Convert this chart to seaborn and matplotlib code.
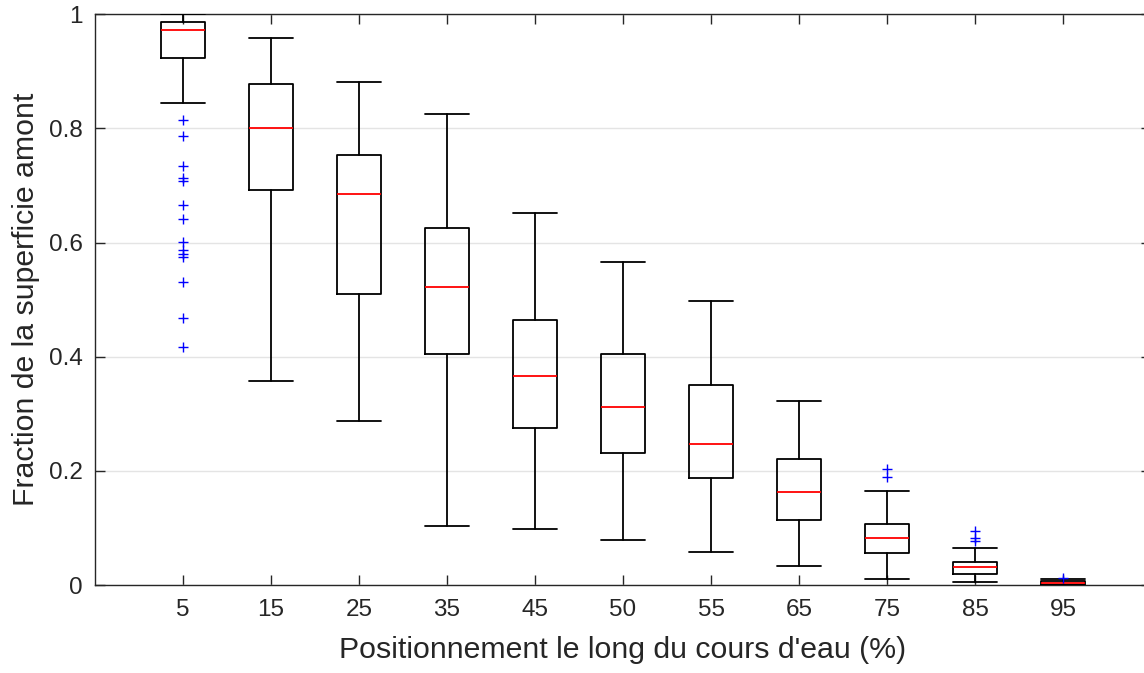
import matplotlib
matplotlib.use("Agg")
import matplotlib.pyplot as plt
import numpy as np
import pandas as pd
import seaborn as sns

# Position along the watercourse (%) for each group
positions_pct = ["5", "15", "25", "35", "45", "50", "55", "65", "75", "85", "95"]

# Box statistics of the upstream area fraction, one value per group
whisker_low = [0.844, 0.357, 0.287, 0.103, 0.098, 0.079, 0.058, 0.033, 0.010, 0.006, 0.000]
quartile_1 = [0.923, 0.692, 0.510, 0.405, 0.275, 0.231, 0.187, 0.114, 0.056, 0.020, 0.0005]
median = [0.973, 0.800, 0.685, 0.522, 0.366, 0.312, 0.247, 0.163, 0.083, 0.031, 0.003]
quartile_3 = [0.986, 0.878, 0.754, 0.625, 0.464, 0.405, 0.350, 0.221, 0.107, 0.040, 0.007]
whisker_high = [1.000, 0.958, 0.882, 0.825, 0.651, 0.566, 0.497, 0.322, 0.165, 0.064, 0.010]

# Outliers per group
outliers_5 = [0.814, 0.786, 0.735, 0.714, 0.708, 0.666, 0.642, 0.601, 0.587, 0.580,
              0.574, 0.531, 0.467, 0.417]
outliers_75 = [0.204, 0.189]
outliers_85 = [0.095, 0.083, 0.077]
outliers_95 = [0.012]

y_ticks = [0, 0.2, 0.4, 0.6, 0.8, 1.0]
y_tick_labels = ["0", "0.2", "0.4", "0.6", "0.8", "1"]

sns.set_theme(style="white")
plt.rcParams["font.family"] = ["Liberation Sans", "DejaVu Sans"]
text_color = "#262626"

W, H = 1144, 673
fig = plt.figure(figsize=(W / 100, H / 100), dpi=100)
ax = fig.add_axes([95 / W, (H - 585) / H, (1151 - 95) / W, (585 - 14.3) / H])

stats = []
for i, lab in enumerate(positions_pct):
    stats.append(dict(label=lab, whislo=whisker_low[i], q1=quartile_1[i], med=median[i],
                      q3=quartile_3[i], whishi=whisker_high[i], fliers=[]))

line_kw = dict(color="black", linewidth=1.3)
x_pos = np.arange(1, len(positions_pct) + 1)
ax.bxp(stats, positions=x_pos, widths=0.5, capwidths=0.5, showfliers=False,
       boxprops=line_kw, whiskerprops=line_kw, capprops=line_kw,
       medianprops=dict(color="red", linewidth=1.3), manage_ticks=False, zorder=3)

# Outlier markers
out_groups = {1: outliers_5, 9: outliers_75, 10: outliers_85, 11: outliers_95}
out_df = pd.DataFrame(
    [(k, v) for k, vals in out_groups.items() for v in vals], columns=["pos", "value"]
)
sns.scatterplot(data=out_df, x="pos", y="value", marker="+", color="blue", s=50,
                linewidth=1.0, ax=ax, zorder=4, clip_on=False)

ax.set_xlim(0, 12)
ax.set_ylim(0, 1)
ax.set_xticks(x_pos)
ax.set_xticklabels(positions_pct)
ax.set_yticks(y_ticks)
ax.set_yticklabels(y_tick_labels)

ax.yaxis.grid(True, color="#e4e4e4", linewidth=1.0, zorder=0)
ax.xaxis.grid(False)
ax.set_axisbelow(True)

ax.tick_params(axis="both", which="major", direction="in", length=7.5, width=1.0,
               color=text_color, labelsize=17.5, labelcolor=text_color,
               top=True, right=True, bottom=True, left=True)
ax.tick_params(axis="x", pad=10)
ax.tick_params(axis="y", pad=9)

for sp in ax.spines.values():
    sp.set_color(text_color)
    sp.set_linewidth(1.0)
    sp.set_visible(True)

ax.set_xlabel("Positionnement le long du cours d'eau (%)", fontsize=21.8, color=text_color,
              labelpad=11)
ax.set_ylabel("Fraction de la superficie amont", fontsize=21.8, color=text_color,
              labelpad=6)

fig.savefig("out.png", dpi=100)
